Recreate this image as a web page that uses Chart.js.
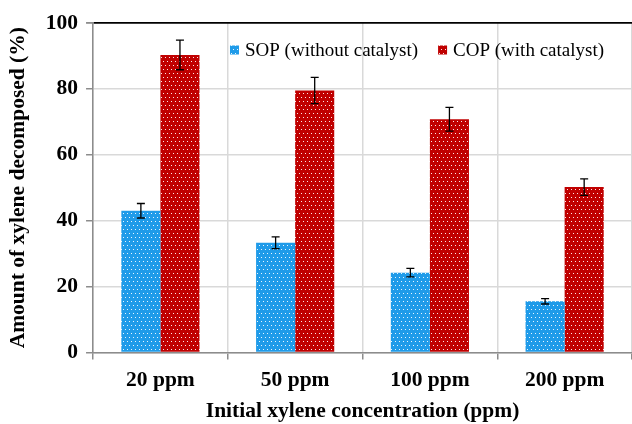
<!DOCTYPE html>
<html>
<head>
<meta charset="utf-8">
<script src="https://cdn.jsdelivr.net/npm/chart.js@4/dist/chart.umd.min.js"></script>
<style>
  html, body { margin: 0; padding: 0; background: #fff; }
  #wrap { width: 632px; height: 424px; }
</style>
</head>
<body>
<div id="wrap"><canvas id="xyleneChart" width="632" height="424"></canvas></div>
<script>
// Data
const categories = ['20 ppm', '50 ppm', '100 ppm', '200 ppm'];
const sopValues = [43.0, 33.3, 24.2, 15.5];
const sopErrors = [2.2, 1.8, 1.3, 0.8];
const copValues = [90.3, 79.5, 70.8, 50.2];
const copErrors = [4.5, 4.0, 3.6, 2.5];
const yTicks = [0, 20, 40, 60, 80, 100];

const FONT = "'Liberation Serif', 'Times New Roman', serif";

// dotted fill like the Excel pattern
const makeDots = (base) => {
    const c = document.createElement('canvas');
    c.width = 8; c.height = 8;
    const g = c.getContext('2d');
    g.fillStyle = base;
    g.fillRect(0, 0, 8, 8);
    g.fillStyle = 'rgba(255,255,255,0.9)';
    g.fillRect(1, 1, 1, 1);
    g.fillRect(5, 1, 1, 1);
    g.fillRect(3, 5, 1, 1);
    g.fillRect(7, 5, 1, 1);
    return g.createPattern(c, 'repeat');
};

// error bars drawn through the y scale
const errorBars = {
    id: 'errorBars',
    afterDatasetsDraw(chart) {
        const ctx = chart.ctx;
        const y = chart.scales.y;
        chart.data.datasets.forEach((ds, i) => {
            const meta = chart.getDatasetMeta(i);
            meta.data.forEach((bar, j) => {
                const v = ds.data[j], e = ds.errors[j];
                const top = y.getPixelForValue(v + e);
                const bot = y.getPixelForValue(v - e);
                ctx.save();
                ctx.strokeStyle = '#000';
                ctx.lineWidth = 1.3;
                ctx.beginPath();
                ctx.moveTo(bar.x, top); ctx.lineTo(bar.x, bot);
                ctx.moveTo(bar.x - 4, top); ctx.lineTo(bar.x + 4, top);
                ctx.moveTo(bar.x - 4, bot); ctx.lineTo(bar.x + 4, bot);
                ctx.stroke();
                ctx.restore();
            });
        });
    }
};

// legend inside the plot, top right
const innerLegend = {
    id: 'innerLegend',
    afterDatasetsDraw(chart) {
        const ctx = chart.ctx;
        const area = chart.chartArea;
        const box = 9, gapText = 6, gapItem = 20;
        ctx.save();
        ctx.font = '19px ' + FONT;
        ctx.textBaseline = 'middle';
        const items = chart.data.datasets.map(ds => ({
            label: ds.label, fill: ds.backgroundColor,
            w: box + gapText + ctx.measureText(ds.label).width
        }));
        const total = items.reduce((s, it) => s + it.w, 0) + gapItem * (items.length - 1);
        let x = area.right - 28 - total;
        const yc = area.top + 27;
        items.forEach(it => {
            ctx.fillStyle = it.fill;
            ctx.fillRect(x, yc - box / 2, box, box);
            ctx.fillStyle = '#000';
            ctx.fillText(it.label, x + box + gapText, yc + 1);
            x += it.w + gapItem;
        });
        ctx.restore();
    }
};

document.addEventListener("DOMContentLoaded", () => {
    const ctx = document.getElementById('xyleneChart').getContext('2d');
    new Chart(ctx, {
        type: 'bar',
        data: {
            labels: categories,
            datasets: [{
                label: 'SOP (without catalyst)',
                data: sopValues,
                errors: sopErrors,
                backgroundColor: makeDots('#1f9be9'),
                borderWidth: 0
            }, {
                label: 'COP (with catalyst)',
                data: copValues,
                errors: copErrors,
                backgroundColor: makeDots('#c00000'),
                borderWidth: 0
            }]
        },
        options: {
            responsive: false,
            animation: false,
            categoryPercentage: 0.58,
            barPercentage: 1.0,
            layout: { padding: { top: 23, right: 0, left: 6, bottom: 0 } },
            plugins: {
                tooltip: { enabled: false },
                legend: { display: false }
            },
            scales: {
                x: {
                    border: { color: '#8c8c8c', width: 1.5 },
                    grid: {
                        offset: true,
                        color: '#d9d9d9',
                        tickColor: '#8c8c8c',
                        tickLength: 7,
                        lineWidth: 1.5
                    },
                    ticks: {
                        color: '#000',
                        padding: 8,
                        font: { family: FONT, size: 21.5, weight: 'bold' }
                    },
                    title: {
                        display: true,
                        text: 'Initial xylene concentration (ppm)',
                        color: '#000',
                        padding: { top: -3, bottom: 0 },
                        font: { family: FONT, size: 21.5, weight: 'bold' }
                    }
                },
                y: {
                    min: 0,
                    max: 100,
                    afterBuildTicks: (axis) => { axis.ticks = yTicks.map(v => ({ value: v })); },
                    border: { color: '#8c8c8c', width: 1.5 },
                    grid: {
                        color: (c) => c.tick && c.tick.value === 100 ? '#000' : '#d9d9d9',
                        lineWidth: (c) => c.tick && c.tick.value === 100 ? 1.8 : 1.5,
                        tickColor: '#8c8c8c',
                        tickLength: 7
                    },
                    ticks: {
                        color: '#000',
                        padding: 8,
                        font: { family: FONT, size: 21.5, weight: 'bold' }
                    },
                    title: {
                        display: true,
                        text: 'Amount of xylene decomposed (%)',
                        color: '#000',
                        padding: { top: 0, bottom: 6 },
                        font: { family: FONT, size: 21.5, weight: 'bold' }
                    }
                }
            }
        },
        plugins: [errorBars, innerLegend]
    });
});
</script>
</body>
</html>
